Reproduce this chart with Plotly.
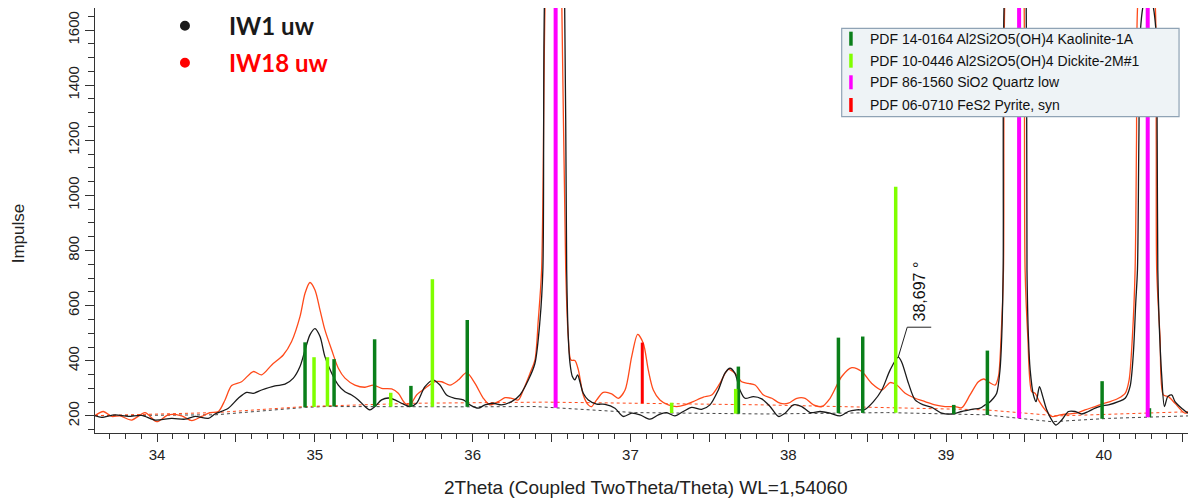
import numpy as np
import plotly.graph_objects as go

# ---------------- data ----------------
# IW1 uw (black pattern)
iw1_x = [33.607, 33.649, 33.734, 33.818, 33.903, 33.987, 34.093, 34.177, 34.241, 34.325,
         34.367, 34.452, 34.515, 34.568, 34.610, 34.663, 34.748, 34.811, 34.864, 34.906,
         34.938, 34.969, 35.001, 35.033, 35.064, 35.107, 35.149, 35.191, 35.233, 35.276,
         35.318, 35.350, 35.381, 35.423, 35.466, 35.508, 35.550, 35.603, 35.645, 35.698,
         35.751, 35.793, 35.835, 35.888, 35.941, 35.983, 36.036, 36.078, 36.131, 36.184,
         36.247, 36.300, 36.353, 36.395, 36.427, 36.445, 36.455, 36.525, 36.583, 36.596,
         36.606, 36.617, 36.632, 36.648, 36.665, 36.680, 36.701, 36.733, 36.786, 36.839,
         36.902, 36.955, 37.008, 37.061, 37.124, 37.177, 37.229, 37.282, 37.335, 37.388,
         37.451, 37.504, 37.557, 37.599, 37.631, 37.662, 37.694, 37.726, 37.779, 37.832,
         37.885, 37.938, 37.980, 38.033, 38.086, 38.139, 38.202, 38.265, 38.329, 38.381,
         38.434, 38.487, 38.540, 38.593, 38.646, 38.697, 38.719, 38.762, 38.804, 38.857,
         38.910, 38.973, 39.036, 39.100, 39.163, 39.216, 39.248, 39.268, 39.300, 39.321,
         39.342, 39.353, 39.362, 39.368, 39.460, 39.508, 39.513, 39.522, 39.533, 39.554,
         39.571, 39.592, 39.613, 39.638, 39.670, 39.697, 39.733, 39.776, 39.818, 39.860,
         39.902, 39.945, 39.987, 40.029, 40.092, 40.135, 40.166, 40.187, 40.202, 40.213,
         40.222, 40.232, 40.255, 40.280, 40.305, 40.330, 40.338, 40.342, 40.350, 40.367,
         40.384, 40.405, 40.430, 40.451, 40.493, 40.536, 40.584]
iw1_y = [201, 195, 204, 198, 202, 185, 191, 188, 198, 191,
         207, 228, 264, 285, 282, 294, 309, 315, 337, 379,
         439, 494, 517, 488, 415, 355, 312, 288, 276, 258,
         234, 222, 234, 258, 265, 258, 246, 234, 246, 306,
         330, 312, 276, 264, 258, 240, 228, 240, 246, 240,
         252, 276, 330, 391, 548, 729, 1700, 3000, 1700, 729,
         488, 391, 343, 331, 349, 324, 282, 258, 243, 242,
         228, 198, 210, 204, 188, 204, 212, 200, 216, 231,
         224, 240, 294, 355, 373, 355, 294, 264, 270, 262,
         234, 198, 210, 240, 234, 212, 216, 210, 200, 216,
         222, 224, 252, 294, 367, 413, 395, 318, 258, 240,
         231, 210, 207, 216, 224, 228, 240, 246, 264, 282,
         367, 488, 729, 1700, 3000, 1700, 729, 488, 367, 276,
         252, 306, 270, 222, 185, 167, 185, 216, 216, 207,
         216, 228, 236, 240, 252, 264, 306, 427, 609, 729,
         1200, 1600, 1700, 1715, 1700, 1600, 1200, 729, 548, 343,
         234, 270, 276, 252, 228, 210, 222]

# IW18 uw (red pattern)
iw18_x = [33.607, 33.660, 33.713, 33.765, 33.839, 33.924, 33.998, 34.072, 34.156, 34.220,
          34.283, 34.336, 34.389, 34.431, 34.473, 34.536, 34.610, 34.663, 34.727, 34.800,
          34.853, 34.906, 34.938, 34.969, 35.001, 35.033, 35.064, 35.107, 35.149, 35.191,
          35.254, 35.318, 35.371, 35.423, 35.487, 35.529, 35.571, 35.603, 35.645, 35.698,
          35.762, 35.804, 35.857, 35.909, 35.962, 36.015, 36.068, 36.110, 36.163, 36.205,
          36.247, 36.290, 36.321, 36.364, 36.395, 36.416, 36.437, 36.459, 36.520, 36.565,
          36.590, 36.606, 36.623, 36.648, 36.670, 36.701, 36.733, 36.754, 36.786, 36.828,
          36.881, 36.923, 36.966, 37.008, 37.046, 37.082, 37.113, 37.145, 37.187, 37.240,
          37.293, 37.346, 37.398, 37.462, 37.515, 37.567, 37.620, 37.662, 37.705, 37.747,
          37.790, 37.843, 37.896, 37.948, 38.001, 38.054, 38.107, 38.160, 38.213, 38.265,
          38.339, 38.403, 38.466, 38.529, 38.593, 38.646, 38.688, 38.741, 38.804, 38.867,
          38.930, 38.994, 39.057, 39.100, 39.152, 39.205, 39.240, 39.268, 39.311, 39.332,
          39.349, 39.364, 39.372, 39.460, 39.495, 39.501, 39.518, 39.543, 39.564, 39.592,
          39.628, 39.670, 39.723, 39.765, 39.828, 39.881, 39.945, 39.987, 40.040, 40.092,
          40.135, 40.160, 40.181, 40.198, 40.207, 40.215, 40.270, 40.325, 40.332, 40.335,
          40.356, 40.377, 40.409, 40.451, 40.515, 40.557, 40.584]
iw18_y = [201, 216, 198, 200, 185, 212, 179, 204, 200, 183,
          198, 212, 216, 258, 310, 324, 361, 349, 385, 421,
          470, 560, 645, 684, 657, 584, 512, 439, 373, 337,
          312, 304, 312, 300, 298, 282, 246, 240, 276, 300,
          324, 324, 312, 330, 357, 318, 264, 240, 252, 266,
          264, 258, 294, 355, 403, 548, 729, 1700, 3000, 1700,
          729, 488, 403, 401, 367, 276, 240, 234, 258, 285,
          280, 264, 294, 415, 496, 463, 367, 294, 258, 240,
          234, 240, 252, 268, 276, 318, 369, 355, 324, 318,
          312, 276, 264, 246, 246, 264, 264, 240, 234, 264,
          343, 375, 361, 318, 294, 321, 312, 282, 264, 252,
          240, 234, 234, 230, 276, 324, 334, 324, 312, 343,
          488, 729, 1700, 3000, 1700, 729, 488, 288, 282, 252,
          222, 198, 204, 207, 210, 222, 234, 243, 252, 264,
          282, 330, 488, 729, 1200, 1700, 2000, 1700, 1200, 729,
          488, 276, 270, 246, 210, 222, 234]

# fitted backgrounds
bg1_x = [33.607, 34.37, 34.94, 35.07, 36.00, 36.395, 37.03, 37.85, 38.63, 39.25, 39.67, 40.03, 40.584]
bg1_y = [201, 204, 231, 234, 233, 234, 212, 207, 212, 204, 179, 191, 201]
bg18_x = [33.607, 34.37, 34.94, 35.07, 35.64, 36.46, 37.03, 37.85, 39.25, 39.71, 40.584]
bg18_y = [201, 212, 234, 236, 246, 250, 246, 240, 222, 200, 216]

# reference patterns (2Theta, intensity top)
kaolinite_pos = [34.938, 35.122, 35.379, 35.609, 35.966, 37.684, 38.318, 38.472, 39.049, 39.262, 39.989, 40.289]
kaolinite_int = [467, 406, 478, 309, 548, 379, 484, 488, 240, 437, 326, 228]
dickite_pos = [34.995, 35.080, 35.481, 35.745, 37.261, 37.667, 38.681]
dickite_int = [413, 413, 284, 696, 248, 298, 1031]
quartz_pos = [36.526, 39.463, 40.278]
quartz_int = [4000, 4000, 4000]
pyrite_pos = [37.075]
pyrite_int = [466]

legend_names = ["PDF 14-0164 Al2Si2O5(OH)4 Kaolinite-1A",
                "PDF 10-0446 Al2Si2O5(OH)4 Dickite-2M#1",
                "PDF 86-1560 SiO2 Quartz low",
                "PDF 06-0710 FeS2 Pyrite, syn"]
sample_names = ["IW1 uw", "IW18 uw"]
peak_label = "38,697 °"
peak_pos = 38.697
peak_int = 413

x_ticks = [34, 34.5, 35, 35.5, 36, 36.5, 37, 37.5, 38, 38.5, 39, 39.5, 40, 40.5]
x_ticktext = ["34", "", "35", "", "36", "", "37", "", "38", "", "39", "", "40", ""]
x_title = "2Theta (Coupled TwoTheta/Theta) WL=1,54060"
y_title = "Impulse"

# ---------------- styles ----------------
C_BLACK = "#1a1a1a"
C_ORANGE = "#FF4A1A"
C_KAO = "#0A7F1A"
C_DIC = "#80FF00"
C_QTZ = "#FF00FF"
C_PYR = "#FF0000"
FONT = "Liberation Sans, Arial, sans-serif"

fig = go.Figure()

fig.add_trace(go.Scatter(x=bg1_x, y=bg1_y, mode="lines",
                         line=dict(color="#444444", width=1, dash="dot"), showlegend=False, hoverinfo="skip"))
fig.add_trace(go.Scatter(x=bg18_x, y=bg18_y, mode="lines",
                         line=dict(color=C_ORANGE, width=1, dash="dot"), showlegend=False, hoverinfo="skip"))
fig.add_trace(go.Scatter(x=iw18_x, y=iw18_y, mode="lines", name=sample_names[1],
                         line=dict(color=C_ORANGE, width=1.3, shape="spline", smoothing=0.8), showlegend=False))
fig.add_trace(go.Scatter(x=iw1_x, y=iw1_y, mode="lines", name=sample_names[0],
                         line=dict(color=C_BLACK, width=1.3, shape="spline", smoothing=0.8), showlegend=False))


def sticks(pos, top, bx, by, color, width, name):
    xs, ys = [], []
    base = np.interp(pos, bx, by)
    for p, t, b in zip(pos, top, base):
        xs += [p, p, None]
        ys += [float(b), t, None]
    fig.add_trace(go.Scatter(x=xs, y=ys, mode="lines", name=name,
                             line=dict(color=color, width=width), showlegend=False))


sticks(kaolinite_pos, kaolinite_int, bg1_x, bg1_y, C_KAO, 3.5, legend_names[0])
sticks(dickite_pos, dickite_int, bg1_x, bg1_y, C_DIC, 3.5, legend_names[1])
sticks(quartz_pos, quartz_int, bg1_x, bg1_y, C_QTZ, 4, legend_names[2])
sticks(pyrite_pos, pyrite_int, bg18_x, bg18_y, C_PYR, 3, legend_names[3])

shapes = []
annotations = []

# peak marker leader + label
shapes.append(dict(type="path", xref="x", yref="y", xsizemode="pixel", ysizemode="pixel",
                   xanchor=peak_pos, yanchor=peak_int, path="M0,0 L9,30 L33,30",
                   line=dict(color="#222222", width=1)))
annotations.append(dict(x=peak_pos, y=peak_int, xref="x", yref="y", text=peak_label,
                        showarrow=False, textangle=-90, xshift=21, yshift=66,
                        font=dict(family=FONT, size=16, color="#111111")))

# reference legend box (paper coords)
box_x0, box_x1, box_y0, box_y1 = 0.6782, 0.9846, 0.7442, 0.9522
shapes.append(dict(type="rect", xref="paper", yref="paper", x0=box_x0, x1=box_x1, y0=box_y0, y1=box_y1,
                   fillcolor="#EEF3F6", line=dict(color="#8FA3B5", width=1.2), layer="above"))
row_y = [0.9278, 0.8760, 0.8252, 0.7718]
row_colors = [C_KAO, C_DIC, C_QTZ, C_PYR]
for name, ry, col in zip(legend_names, row_y, row_colors):
    shapes.append(dict(type="line", xref="paper", yref="paper", xsizemode="pixel", ysizemode="pixel",
                       xanchor=0.6866, yanchor=ry, x0=0, x1=0, y0=-7, y1=7,
                       line=dict(color=col, width=3.5), layer="above"))
    annotations.append(dict(x=0.7023, y=ry, xref="paper", yref="paper", text=name, showarrow=False,
                            xanchor="left", yanchor="middle",
                            font=dict(family=FONT, size=14, color="#111111")))

# sample legend (top-left)
for name, yy, col in zip(sample_names, [0.9584, 0.8713], [C_BLACK, "#FF0000"]):
    shapes.append(dict(type="circle", xref="paper", yref="paper", xsizemode="pixel", ysizemode="pixel",
                       xanchor=0.0817, yanchor=yy, x0=-5, x1=5, y0=-5, y1=5,
                       fillcolor=col, line=dict(color=col, width=0)))
    annotations.append(dict(x=0.1199, y=yy, xref="paper", yref="paper", text="<b>%s</b>" % name,
                            showarrow=False, xanchor="left", yanchor="middle",
                            font=dict(family="Lato, sans-serif", size=24, color=col)))

# axis titles
annotations.append(dict(x=0.5, y=-0.129, xref="paper", yref="paper", text=x_title, showarrow=False,
                        xanchor="center", yanchor="middle",
                        font=dict(size=19, family=FONT, color="#222222")))
annotations.append(dict(x=-0.0699, y=0.47, xref="paper", yref="paper", text=y_title, showarrow=False,
                        textangle=-90, xanchor="center", yanchor="middle",
                        font=dict(size=17, family=FONT, color="#222222")))

# the page places the figure 8px from the top-left corner, so the figure is
# sized so that its plot area lands at x 95..1196, y 8..433 of the window
fig.update_layout(
    width=1188, height=493,
    margin=dict(l=87, r=0, t=0, b=68, autoexpand=False),
    paper_bgcolor="white", plot_bgcolor="white",
    showlegend=False,
    shapes=shapes, annotations=annotations,
    font=dict(family=FONT, color="#222222"),
    xaxis=dict(range=[33.607, 40.584], showgrid=False, zeroline=False, automargin=False,
               showline=True, linecolor="#333333", linewidth=1.2,
               tickmode="array", tickvals=x_ticks, ticktext=x_ticktext,
               ticks="outside", ticklen=8, tickwidth=1.2, tickcolor="#333333",
               tickfont=dict(size=15, family=FONT, color="#222222"),
               minor=dict(dtick=0.1, tick0=34, ticks="outside", ticklen=5, tickwidth=1, tickcolor="#333333")),
    yaxis=dict(range=[138, 1680], showgrid=False, zeroline=False, automargin=False,
               showline=True, linecolor="#333333", linewidth=1.2,
               tick0=200, dtick=200, ticks="outside", ticklen=9, tickwidth=1.2, tickcolor="#333333",
               tickangle=-90, tickfont=dict(size=15, family=FONT, color="#222222"),
               minor=dict(dtick=50, tick0=200, ticks="outside", ticklen=6, tickwidth=1, tickcolor="#333333")),
)

fig.write_html("out.html")
